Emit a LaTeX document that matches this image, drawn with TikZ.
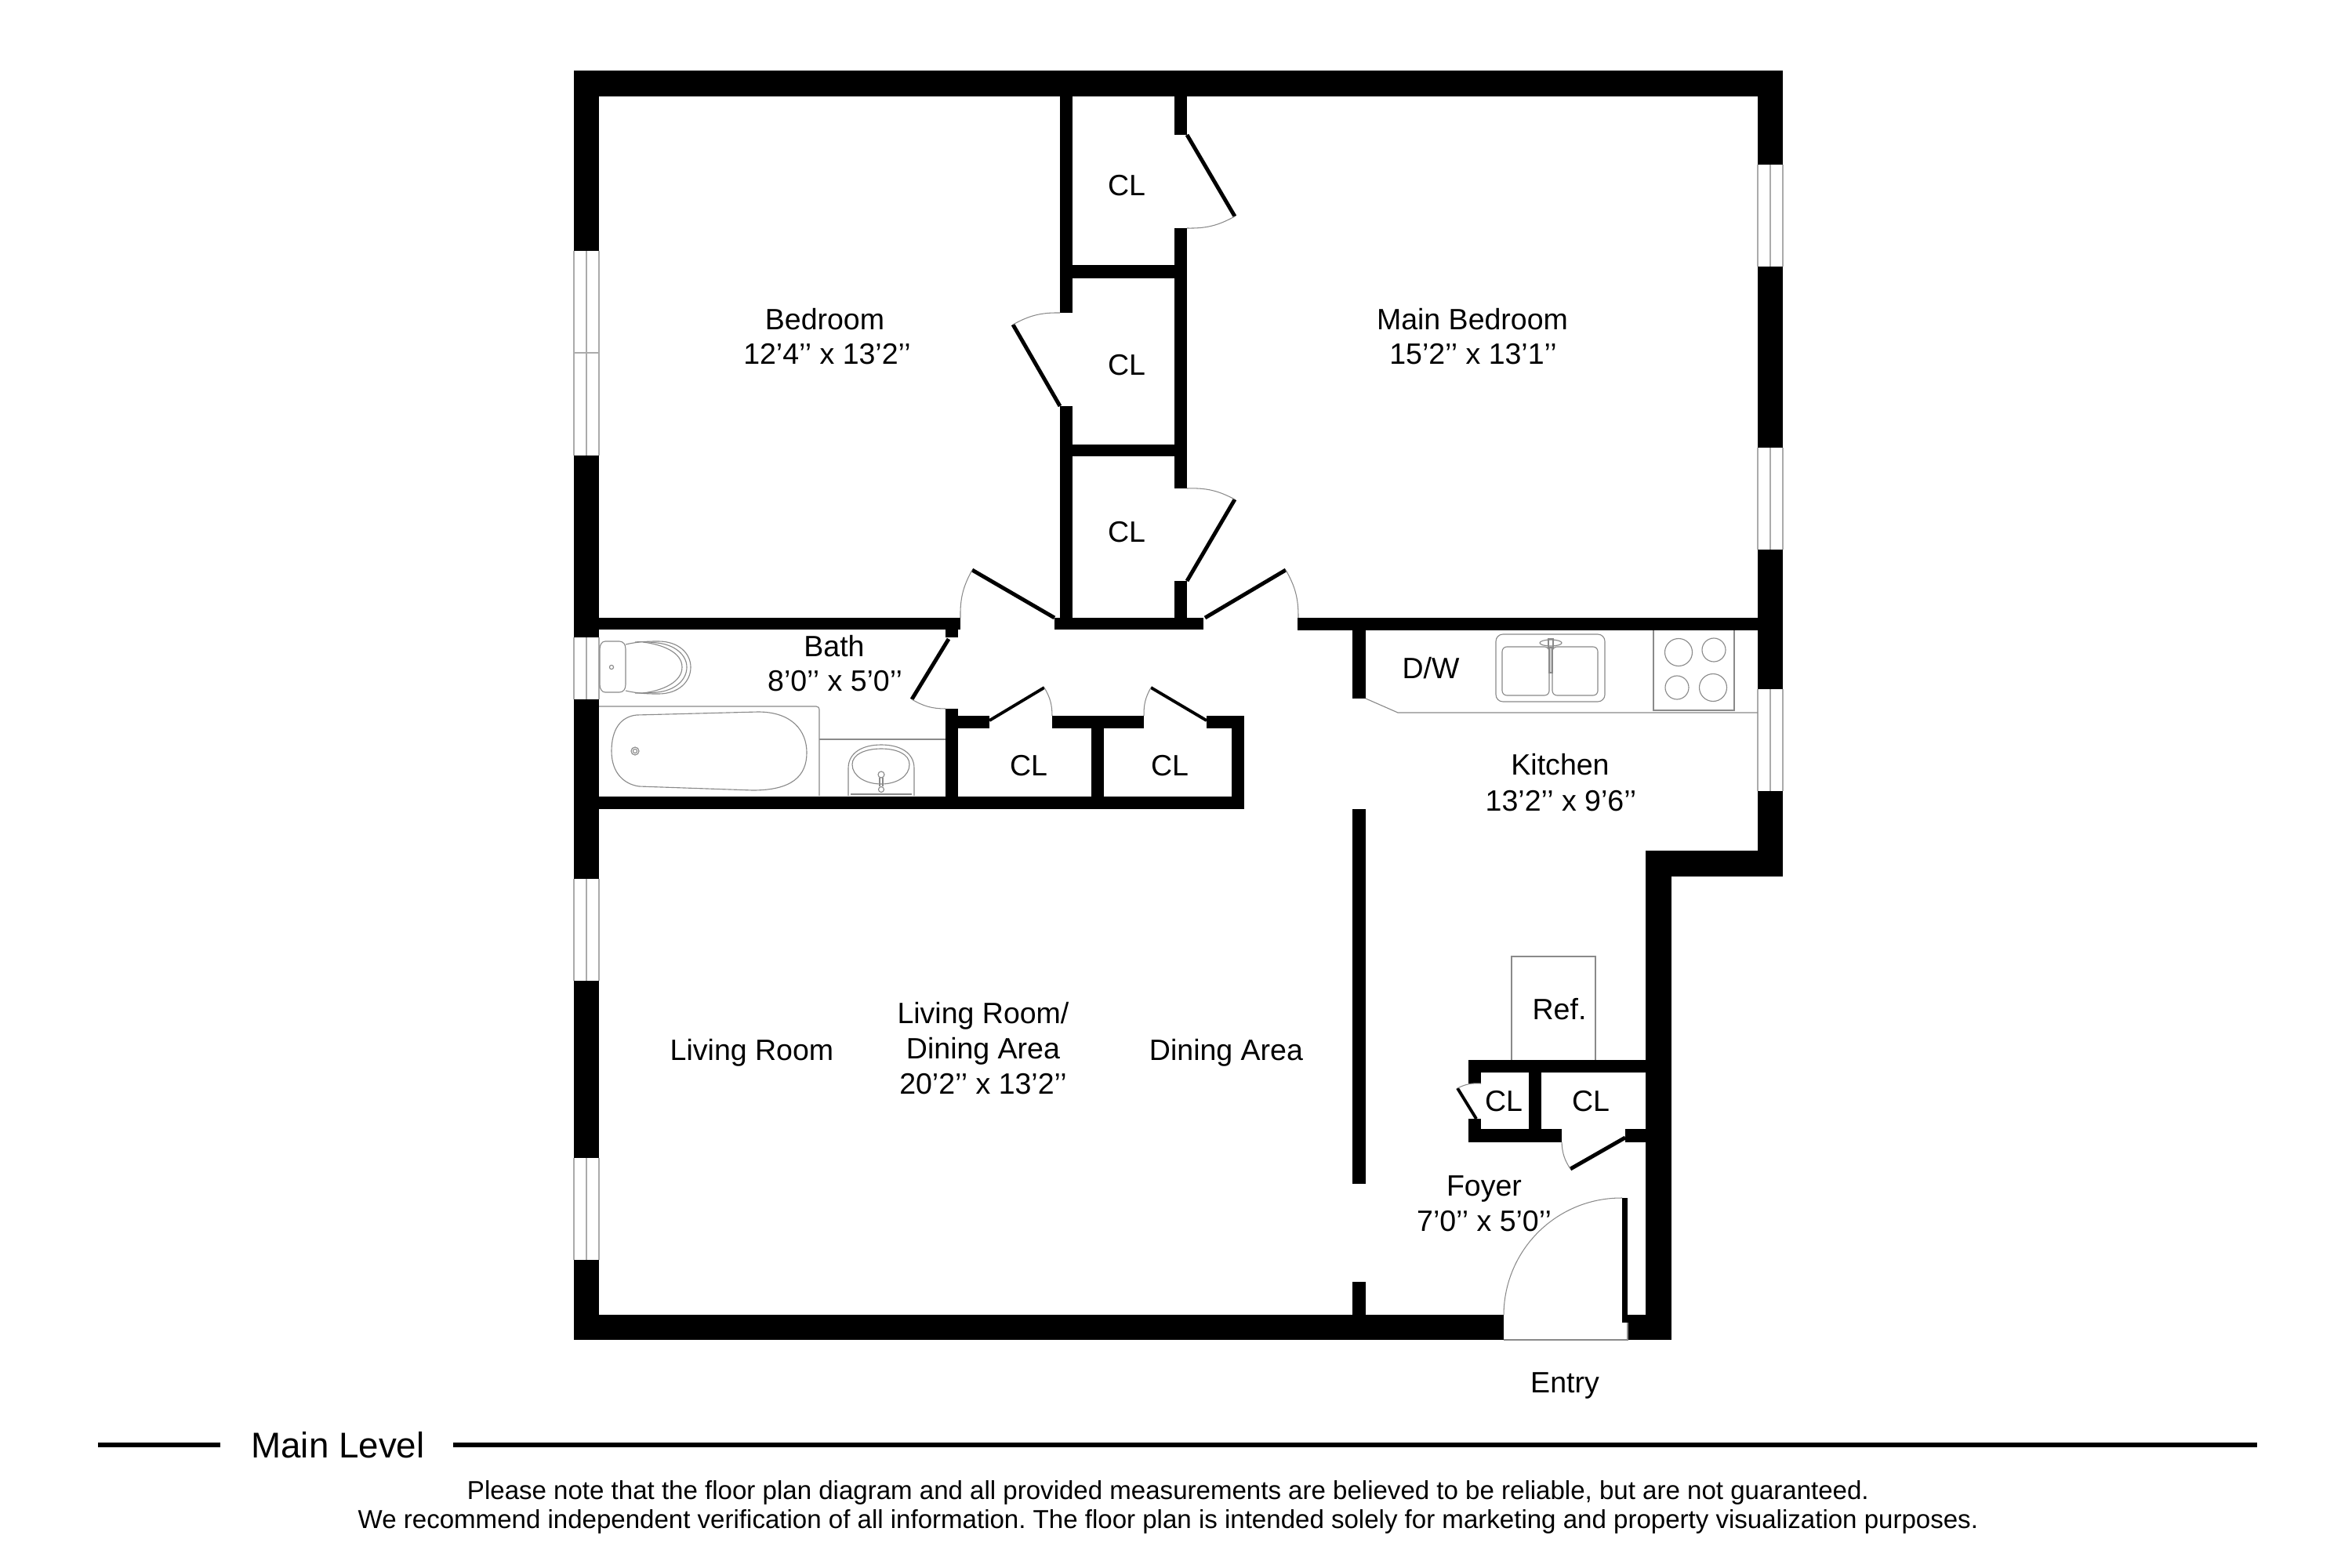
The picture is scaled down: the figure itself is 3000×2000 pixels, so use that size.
\documentclass[tikz,border=0pt]{standalone}
\usepackage{fontspec}
\setmainfont{Liberation Sans}
\definecolor{fix}{HTML}{8A8A8A}
\definecolor{win}{HTML}{ABABAB}
\tikzset{
  wall/.style={fill=black,draw=none},
  leaf/.style={draw=black,line width=1.4pt},
  leafthin/.style={draw=black,line width=1.1pt},
  swing/.style={draw=fix,line width=0.3pt},
  fixture/.style={draw=fix,line width=0.32pt},
  winline/.style={draw=win,line width=0.45pt},
  lbl/.style={anchor=base,inner sep=0pt,font=\fontsize{10.67pt}{12pt}\selectfont},
  titlelbl/.style={anchor=base,inner sep=0pt,font=\fontsize{13pt}{15pt}\selectfont},
  notelbl/.style={anchor=base,inner sep=0pt,font=\fontsize{9.4pt}{11pt}\selectfont\frenchspacing},
  rulebar/.style={draw=black,line width=1.6pt}
}
\newcommand{\wallrect}[4]{\fill[wall] (#1,#2) rectangle (#3,#4);}
\newcommand{\winleft}[2]{\draw[winline] (732,#1) -- (732,#2) (748,#1) -- (748,#2) (764,#1) -- (764,#2);}
\newcommand{\winright}[2]{\draw[winline] (2242,#1) -- (2242,#2) (2258,#1) -- (2258,#2) (2274,#1) -- (2274,#2);}
\begin{document}
\begin{tikzpicture}[x=0.01cm,y=-0.01cm]
\useasboundingbox (0,0) rectangle (3000,2000);
\fill[white] (0,0) rectangle (3000,2000);
% outer walls
\wallrect{732}{90}{2274}{123}
\wallrect{732}{90}{764}{320}
\wallrect{732}{581}{764}{813}
\wallrect{732}{892}{764}{1121}
\wallrect{732}{1251}{764}{1477}
\wallrect{732}{1607}{764}{1709}
\wallrect{2242}{90}{2274}{210}
\wallrect{2242}{340}{2274}{571}
\wallrect{2242}{701}{2274}{879}
\wallrect{2242}{1009}{2274}{1118}
\wallrect{2099}{1085}{2274}{1118}
\wallrect{2099}{1085}{2132}{1709}
\wallrect{732}{1677}{1918}{1709}
\wallrect{2076}{1677}{2132}{1709}
\wallrect{2069}{1528}{2076}{1687}
% windows
\winleft{320}{581}
\draw[winline] (732,450) -- (764,450);
\winleft{813}{892}
\winleft{1121}{1251}
\winleft{1477}{1607}
\winright{210}{340}
\winright{571}{701}
\winright{879}{1009}
% bedroom closets
\wallrect{1352}{123}{1368}{399}
\wallrect{1352}{518}{1368}{803}
\wallrect{1498}{123}{1514}{172}
\wallrect{1498}{291}{1514}{623}
\wallrect{1498}{741}{1514}{803}
\wallrect{1368}{338}{1498}{355}
\wallrect{1368}{567}{1498}{582}
\wallrect{1345}{788}{1535}{803}
% bath and hall closets
\wallrect{764}{788}{1225}{803}
\wallrect{1206}{803}{1222}{813}
\wallrect{1206}{904}{1222}{1032}
\wallrect{1206}{913}{1262}{929}
\wallrect{1342}{913}{1459}{929}
\wallrect{1539}{913}{1587}{929}
\wallrect{1571}{913}{1587}{1032}
\wallrect{1392}{929}{1408}{1016}
\wallrect{764}{1016}{1587}{1032}
% kitchen
\wallrect{1655}{788}{2242}{804}
\wallrect{1725}{804}{1742}{891}
\wallrect{1725}{1032}{1742}{1510}
\wallrect{1725}{1635}{1742}{1677}
% foyer closets
\wallrect{1873}{1352}{2099}{1368}
\wallrect{1873}{1352}{1889}{1382}
\wallrect{1873}{1427}{1889}{1457}
\wallrect{1873}{1440}{1992}{1457}
\wallrect{1950}{1368}{1966}{1440}
\wallrect{2073}{1440}{2099}{1457}
% door leaves
\draw[leaf] (1514,172) -- (1575,276);
\draw[leaf] (1292,414) -- (1352,518);
\draw[leaf] (1514,741) -- (1575,637);
\draw[leaf] (1240,727) -- (1345,788);
\draw[leaf] (1537,788) -- (1640,727);
\draw[leaf] (1210,815) -- (1163,892);
\draw[leafthin] (1262,919) -- (1332,877);
\draw[leafthin] (1468,877) -- (1539,919);
\draw[leafthin] (1859,1388) -- (1883,1427);
\draw[leaf] (2073,1451) -- (2003,1491);
% door swings
\draw[swing] (1575,276) to[bend left=15] (1514,291);
\draw[swing] (1352,399) to[bend right=15] (1292,414);
\draw[swing] (1514,623) to[bend left=15] (1575,637);
\draw[swing] (1240,727) to[bend right=15] (1225,788);
\draw[swing] (1640,727) to[bend left=15] (1656,788);
\draw[swing] (1163,892) to[bend right=15] (1206,904);
\draw[swing] (1332,877) to[bend left=15] (1342,913);
\draw[swing] (1468,877) to[bend right=15] (1459,913);
\draw[swing] (1889,1382) to[bend right=15] (1859,1388);
\draw[swing] (1992,1457) to[bend right=15] (2003,1491);
\draw[swing] (1918,1677) to[bend left=45] (2069,1528);
\draw[fixture] (1918,1709) -- (2076,1709) -- (2076,1687);
% toilet
\draw[fixture] (772,818) -- (790,818) .. controls (795,818) and (798,822) .. (798,828) -- (798,873) .. controls (798,879) and (795,883) .. (790,883) -- (772,883) .. controls (768,883) and (765,879) .. (765,873) -- (765,828) .. controls (765,822) and (768,818) .. (772,818) -- cycle;
\draw[fixture] (798,822) .. controls (815,818) and (830,818) .. (840,818) .. controls (865,818) and (881,833) .. (881,851) .. controls (881,870) and (865,885) .. (840,885) .. controls (830,885) and (815,885) .. (798,881);
\draw[fixture] (810,819) .. controls (820,818) and (830,819) .. (838,820) .. controls (860,822) and (876,835) .. (876,851) .. controls (876,868) and (860,881) .. (838,883) .. controls (830,884) and (820,884) .. (810,884);
\draw[fixture] (820,819) .. controls (845,822) and (870,832) .. (870,851) .. controls (870,870) and (845,881) .. (820,884);
\draw[fixture] (780,851) circle [radius=2.6];
% tub
\draw[fixture] (764,901) -- (1041,901) .. controls (1044,901) and (1045,903) .. (1045,905) -- (1045,1015);
\draw[fixture] (812,912) -- (967,908) .. controls (1010,908) and (1029,932) .. (1029,960) .. controls (1029,990) and (1010,1008) .. (960,1008) -- (815,1003) .. controls (795,1000) and (780,985) .. (780,958) .. controls (780,930) and (792,914) .. (812,912) -- cycle;
\draw[fixture] (810,958) circle [radius=5];
\draw[fixture] (810,958) circle [radius=2.6];
% bath sink
\draw[fixture] (1045,943) -- (1206,943);
\draw[fixture] (1082,1015) -- (1082,980) .. controls (1082,960) and (1100,950) .. (1124,950) .. controls (1148,950) and (1166,960) .. (1166,980) -- (1166,1015);
\draw[fixture] (1087,975) .. controls (1087,962) and (1104,955) .. (1124,955) .. controls (1144,955) and (1160,962) .. (1160,975) .. controls (1160,990) and (1144,1000) .. (1124,1000) .. controls (1104,1000) and (1087,990) .. (1087,975) -- cycle;
\draw[fixture] (1085,1013) -- (1163,1013);
\draw[fixture] (1124,988) circle [radius=4];
\draw[fixture] (1122,992) -- (1122,1003) (1126,992) -- (1126,1003);
\draw[fixture] (1124,1007) circle [radius=3.5];
% counter
\draw[fixture] (1742,891) -- (1783,909) -- (2242,909);
% kitchen sink
\draw[fixture,rounded corners=0.09cm] (1908,809) rectangle (2047,895);
\draw[fixture,rounded corners=0.06cm] (1916,825) rectangle (1976,887);
\draw[fixture,rounded corners=0.06cm] (1980,825) rectangle (2038,887);
\draw[fixture] (1978,820) ellipse [x radius=14, y radius=4];
\draw[fixture] (1975,815) rectangle (1981,826);
\draw[fixture,fill=fix!40] (1976,826) rectangle (1980,858);
% stove
\draw[fixture] (2109,804) -- (2109,906) -- (2212,906) -- (2212,804);
\draw[fixture] (2141,832) ellipse [x radius=17.5, y radius=17.5];
\draw[fixture] (2186,829) ellipse [x radius=15, y radius=15];
\draw[fixture] (2139,877) ellipse [x radius=15, y radius=15];
\draw[fixture] (2185,877) ellipse [x radius=17.5, y radius=17.5];
% refrigerator
\draw[fixture] (1928,1352) -- (1928,1220) -- (2035,1220) -- (2035,1352);
% labels
\node[lbl] (bedroomname) at (1052,420) {Bedroom};
\node[lbl] (bedroomsize) at (1055,464) {12’4’’ x 13’2’’};
\node[lbl] (mainname) at (1878,420) {Main Bedroom};
\node[lbl] (mainsize) at (1879,464) {15’2’’ x 13’1’’};
\node[lbl] (cla) at (1437,249) {CL};
\node[lbl] (clb) at (1437,478) {CL};
\node[lbl] (clc) at (1437,691) {CL};
\node[lbl] (bathname) at (1064,837) {Bath};
\node[lbl] (bathsize) at (1065,881) {8’0’’ x 5’0’’};
\node[lbl] (cld) at (1312,989) {CL};
\node[lbl] (cle) at (1492,989) {CL};
\node[lbl] (dw) at (1825,865) {D/W};
\node[lbl] (kitchenname) at (1990,988) {Kitchen};
\node[lbl] (kitchensize) at (1991,1034) {13’2’’ x 9’6’’};
\node[lbl] (ref) at (1989,1300) {Ref.};
\node[lbl] (clf) at (1918,1417) {CL};
\node[lbl] (clg) at (2029,1417) {CL};
\node[lbl] (foyername) at (1893,1525) {Foyer};
\node[lbl] (foyersize) at (1893,1570) {7’0’’ x 5’0’’};
\node[lbl] (entry) at (1996,1776) {Entry};
\node[lbl] (living) at (959,1352) {Living Room};
\node[lbl] (ldone) at (1254,1305) {Living Room/};
\node[lbl] (ldtwo) at (1254,1350) {Dining Area};
\node[lbl] (ldsize) at (1254,1395) {20’2’’ x 13’2’’};
\node[lbl] (dining) at (1564,1352) {Dining Area};
% footer
\coordinate (ruleaa) at (125,1843);
\coordinate (ruleab) at (281,1843);
\coordinate (rulebaa) at (578,1843);
\coordinate (rulebb) at (2879,1843);
\draw[rulebar] (ruleaa) -- (ruleab);
\draw[rulebar] (rulebaa) -- (rulebb);
\node[titlelbl] (title) at (431,1859) {Main Level};
\node[notelbl] (notea) at (1490,1912) {Please note that the floor plan diagram and all provided measurements are believed to be reliable, but are not guaranteed.};
\node[notelbl] (noteb) at (1490,1949) {We recommend independent verification of all information. The floor plan is intended solely for marketing and property visualization purposes.};
\end{tikzpicture}
\end{document}
